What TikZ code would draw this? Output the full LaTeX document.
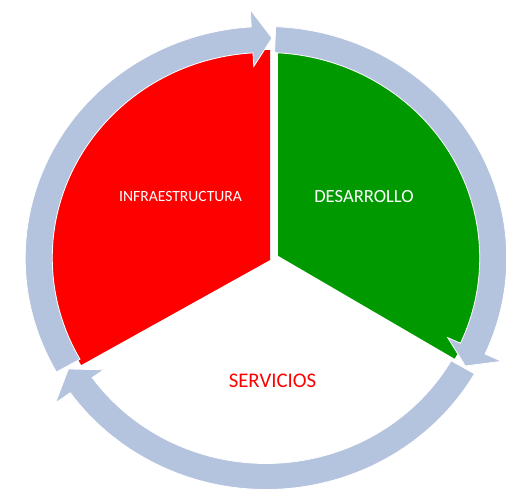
\documentclass[tikz,border=0pt]{standalone}
\usepackage{fontspec}
\setmainfont{Carlito}
\definecolor{ringblue}{RGB}{180,195,222}
\definecolor{segred}{RGB}{255,0,0}
\definecolor{seggreen}{RGB}{0,153,0}
\begin{document}
\begin{tikzpicture}[x=1pt,y=1pt,
  ringarc/.style={fill=ringblue,draw=white,line width=0.8pt},
  lbl/.style={inner sep=0pt,anchor=base}]
\useasboundingbox (0,0) rectangle (506,491);
% segments
\fill[segred] (270,231) -- ++(0,210) arc[start angle=90,end angle=210,x radius=218,y radius=210] -- cycle;
\fill[seggreen] (278,235.3) -- ++(0,206) arc[start angle=90,end angle=-30,x radius=204,y radius=206] -- cycle;
% ring of arrows
\begin{scope}[shift={(266,233)},xscale=1.04]
\path[ringarc] (87.7:231.5) arc[start angle=87.7,end angle=-24.5,radius=231.5]
  -- (-24.5:249) -- (-29.4:220) -- (-24.5:192) -- (-24.5:205.5)
  arc[start angle=-24.5,end angle=87.7,radius=205.5] -- cycle;
\path[ringarc] (-30:231.5) arc[start angle=-30,end angle=-144.4,radius=231.5]
  -- (-144.4:249) -- (-149.7:220) -- (-144.4:192) -- (-144.4:205.5)
  arc[start angle=-144.4,end angle=-30,radius=205.5] -- cycle;
\path[ringarc] (209.5:231.5) arc[start angle=209.5,end angle=93.5,radius=231.5]
  -- (93.5:249) -- (88.5:220) -- (93.5:192) -- (93.5:205.5)
  arc[start angle=93.5,end angle=209.5,radius=205.5] -- cycle;
\end{scope}
% labels
\node[lbl,text=white,font=\fontsize{15.6}{18}\selectfont] (infra) at (180.5,290) {INFRAESTRUCTURA};
\node[lbl,text=white,font=\fontsize{18.6}{22}\selectfont] (des) at (364,288.7) {DESARROLLO};
\node[lbl,text=segred,font=\fontsize{20.8}{24}\selectfont] (serv) at (272.5,103.3) {SERVICIOS};
\end{tikzpicture}
\end{document}
